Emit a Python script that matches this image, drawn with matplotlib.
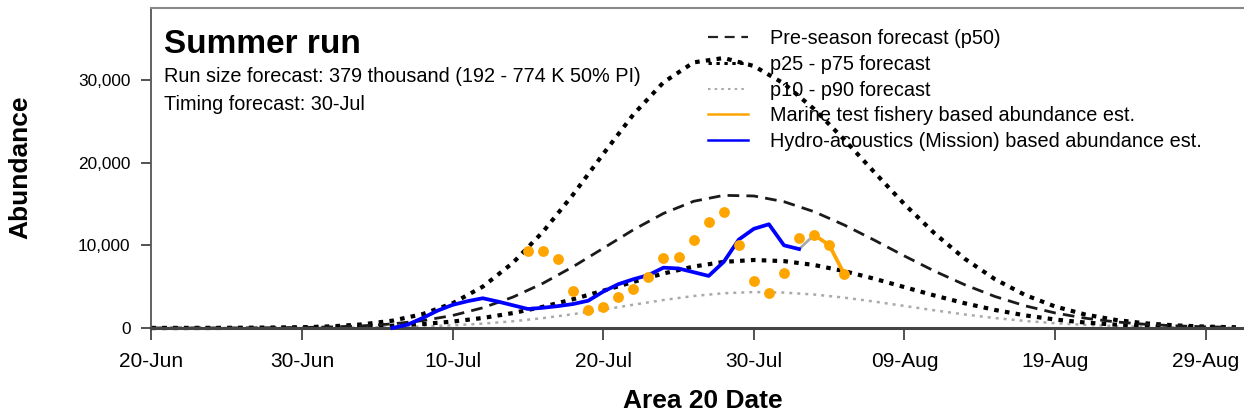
import numpy as np
import matplotlib
matplotlib.use("Agg")
import matplotlib.pyplot as plt
import matplotlib.dates as mdates
from matplotlib.lines import Line2D

plt.rcParams['font.family'] = ['Liberation Sans', 'DejaVu Sans']

W, H = 1244, 415
START = np.datetime64('2023-06-20')

# ---- forecast curves (every 2 days from 20-Jun) ----
curve_days = list(range(0, 73, 2))
p50 = [1, 2, 5, 12, 28, 61, 130, 260, 494, 888, 1514, 2442, 3736, 5410, 7422,
       9644, 11882, 13862, 15327, 16047, 15970, 15280, 14070, 12460, 10626,
       8710, 6875, 5233, 3816, 2689, 1819, 1185, 742, 448, 260, 145, 78]
p25 = [1, 2, 4, 10, 21, 42, 83, 156, 279, 477, 778, 1213, 1806, 2567, 3482,
       4511, 5580, 6592, 7432, 8000, 8228, 8090, 7622, 6880, 5960, 4941, 3927,
       2993, 2185, 1529, 1025, 658, 406, 239, 135, 73, 38]
p75 = [1, 2, 5, 14, 36, 89, 203, 438, 884, 1677, 2990, 5000, 7880, 11640,
       16150, 21060, 25830, 29720, 32130, 32660, 31690, 29560, 26480, 22790,
       18840, 14970, 11440, 8380, 5910, 4000, 2600, 1630, 980, 563, 313, 167, 85]
p10 = [0, 0, 1, 2, 6, 13, 28, 55, 105, 188, 322, 525, 813, 1197, 1674, 2227,
       2816, 3386, 3871, 4207, 4346, 4285, 4051, 3673, 3195, 2666, 2133, 1637,
       1206, 852, 577, 375, 234, 140, 80, 44, 23]

# ---- in-season estimates ----
hydro_days = list(range(16, 44))
hydro = [0, 400, 1200, 2100, 2800, 3250, 3600, 3200, 2750, 2300, 2450, 2650,
         2900, 3300, 4400, 5300, 5900, 6400, 7300, 7200, 6750, 6300, 8000,
         10700, 12000, 12550, 10000, 9550]
marine_days = list(range(25, 47))
marine = [9300, 9300, 8400, 4480, 2180, 2540, 3750, 4720, 6170, 8470, 8590,
          10640, 12820, 14030, 10040, 5690, 4230, 6650, 10890, 11250, 10040, 6530]
marine_line_days = [44, 45, 46]

tick_days = [0, 10, 20, 30, 40, 50, 60, 70]
ytick_vals = [0, 10000, 20000, 30000]
ytick_labels = ['0', '10,000', '20,000', '30,000']


def to_dates(days):
    return START + np.array(days).astype('timedelta64[D]')


fig = plt.figure(figsize=(W / 100, H / 100), dpi=100)
x0 = 151.4
ax = fig.add_axes([x0 / W, 1 - 338 / H, 1 - x0 / W, 330 / H])

DOT = (0, (1.1, 1.5))
DASH = (0, (4.2, 2.6))
GDOT = (0, (1.2, 2.0))

cd = to_dates(curve_days)
ax.plot(cd, p10, color='#aaaaaa', lw=1.8, linestyle=GDOT, zorder=2)
ax.plot(cd, p25, color='black', lw=3.0, linestyle=DOT, zorder=2)
ax.plot(cd, p75, color='black', lw=3.0, linestyle=DOT, zorder=2)
ax.plot(cd, p50, color='#1a1a1a', lw=2.0, linestyle=DASH, zorder=2)

ax.plot(to_dates(hydro_days), hydro, color='#0000ff', lw=2.7, zorder=4,
        solid_joinstyle='round')
# connector from last hydro estimate to marine line
ax.plot(to_dates([hydro_days[-1], marine_line_days[0]]),
        [hydro[-1], marine[marine_days.index(marine_line_days[0])]],
        color='#aaaaaa', lw=2, zorder=3)
ml_vals = [marine[marine_days.index(d)] for d in marine_line_days]
ax.plot(to_dates(marine_line_days), ml_vals, color='#ffa500', lw=2.7, zorder=4)
ax.plot(to_dates(marine_days), marine, linestyle='none', marker='o', ms=7.8,
        color='#ffa500', mec='none', zorder=5)

ax.set_xlim(to_dates([0])[0], START + np.timedelta64(int((W - x0) / 15.06 * 24), 'h'))
ax.set_ylim(-1210, 38710)

ax.set_xticks(to_dates(tick_days))
ax.xaxis.set_major_formatter(mdates.DateFormatter('%d-%b'))
ax.set_yticks(ytick_vals)
ax.set_yticklabels(ytick_labels)

ax.spines['right'].set_visible(False)
ax.spines['left'].set_color('#555555')
ax.spines['left'].set_linewidth(1.3)
ax.spines['top'].set_color('#888888')
ax.spines['top'].set_linewidth(1.5)
ax.spines['bottom'].set_position(('data', 0))
ax.spines['bottom'].set_color('#444444')
ax.spines['bottom'].set_linewidth(2.2)

ax.tick_params(axis='x', direction='out', length=8.6, width=1.3, color='#444444',
               labelsize=15, pad=8.5)
ax.tick_params(axis='y', direction='out', length=7, width=1.3, color='#444444',
               labelsize=12.4, pad=8)


def fx(x):
    return x / W


def fy(y):
    return 1 - y / H


fig.text(fx(164), fy(53), 'Summer run', fontsize=24, fontweight='bold',
         va='baseline', ha='left')
fig.text(fx(164), fy(82), 'Run size forecast: 379 thousand (192 - 774 K 50% PI)',
         fontsize=14.3, va='baseline', ha='left')
fig.text(fx(164), fy(110), 'Timing forecast: 30-Jul', fontsize=14.3,
         va='baseline', ha='left')
fig.text(fx(20), fy(167), 'Abundance', fontsize=19, fontweight='bold',
         rotation=90, va='center', ha='center')
fig.text(fx(703), fy(401), 'Area 20 Date', fontsize=19, fontweight='bold',
         va='center', ha='center')

handles = [
    Line2D([], [], color='#222222', lw=1.6, linestyle=(0, (4.5, 3))),
    Line2D([], [], color='black', lw=2.2, linestyle=DOT),
    Line2D([], [], color='#aaaaaa', lw=1.5, linestyle=GDOT),
    Line2D([], [], color='#ffa500', lw=1.8),
    Line2D([], [], color='#0000ff', lw=1.8),
]
labels = ['Pre-season forecast (p50)', 'p25 - p75 forecast', 'p10 - p90 forecast',
          'Marine test fishery based abundance est.',
          'Hydro-acoustics (Mission) based abundance est.']
fig.legend(handles, labels, loc='upper left', bbox_to_anchor=(fx(708), fy(29)),
           bbox_transform=fig.transFigure, frameon=False, fontsize=14.3,
           handlelength=2.0, handletextpad=1.1, labelspacing=0.34, borderpad=0,
           borderaxespad=0)

fig.savefig('out.png', dpi=100)
